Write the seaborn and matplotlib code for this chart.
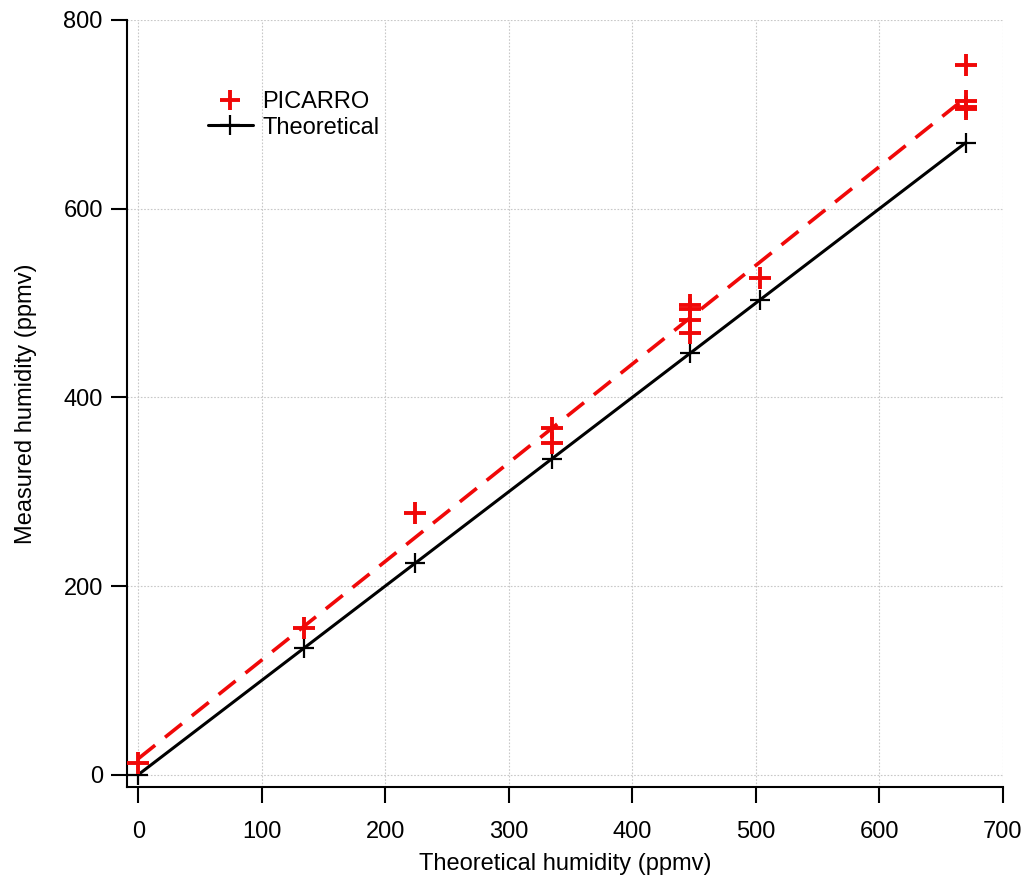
import numpy as np
import pandas as pd
import matplotlib
matplotlib.use("Agg")
import matplotlib.pyplot as plt
from matplotlib.lines import Line2D
import seaborn as sns

# Theoretical humidity levels (ppmv)
theo_x = [0, 134, 224, 335, 447, 503, 670]
theo_y = [0, 134, 224, 335, 447, 503, 670]

# PICARRO measurements
pic_x = [0, 134, 224, 335, 335, 447, 447, 447, 447, 503, 670, 670, 670, 670]
pic_y = [12, 155, 277, 367, 352, 498, 494, 482, 468, 527, 752, 714, 708, 706]

RED = '#f00808'

sns.set_theme(style="ticks")
plt.rcParams['font.family'] = ['Liberation Sans', 'DejaVu Sans']
plt.rcParams['text.color'] = 'black'
plt.rcParams['axes.labelcolor'] = 'black'

fig = plt.figure(figsize=(10.25, 8.75), dpi=100)
ax = fig.add_axes([0.124, 0.1006, 0.8545, 0.8766])

# linear fit of the PICARRO data
slope, intercept = np.polyfit(pic_x, pic_y, 1)
fit = pd.DataFrame({'x': [0, 670]})
fit['y'] = slope * fit['x'] + intercept

sns.lineplot(data=fit, x='x', y='y', ax=ax, color=RED, lw=2.6,
             linestyle=(0, (6, 3.5)), zorder=3)
sns.lineplot(x=theo_x, y=theo_y, ax=ax, color='black', lw=2.2, marker='+',
             markersize=15, markeredgewidth=1.6, markeredgecolor='black',
             zorder=4, clip_on=False)
sns.scatterplot(x=pic_x, y=pic_y, ax=ax, marker='+', s=250, color=RED,
                linewidth=2.8, zorder=5, clip_on=False)

ax.set_xlim(-9, 700)
ax.set_ylim(-13, 800)
ax.set_xticks(range(0, 701, 100))
ax.set_yticks(range(0, 801, 200))
ax.grid(True, color='#c8c8c8', linestyle=(0, (1.5, 1.5)), lw=0.8)
sns.despine(ax=ax)
for s in ['left', 'bottom']:
    ax.spines[s].set_linewidth(1.5)
    ax.spines[s].set_color('black')
ax.tick_params(length=11.5, width=1.5, labelsize=17, colors='black')
ax.tick_params(axis='x', pad=13)
ax.tick_params(axis='y', pad=6)

ax.set_xlabel('Theoretical humidity (ppmv)', fontsize=17, labelpad=7)
ax.set_ylabel('Measured humidity (ppmv)', fontsize=17, labelpad=19)

handles = [
    Line2D([], [], color=RED, marker='+', linestyle='none',
           markersize=15, markeredgewidth=2.8),
    Line2D([], [], color='black', marker='+', lw=2.2,
           markersize=15, markeredgewidth=1.6),
]
ax.legend(handles, ['PICARRO', 'Theoretical'], loc='upper left',
          bbox_to_anchor=(0.068, 0.935), frameon=False, fontsize=17,
          handlelength=1.9, handletextpad=0.4, labelspacing=0.15)

fig.savefig('out.png', dpi=100)
